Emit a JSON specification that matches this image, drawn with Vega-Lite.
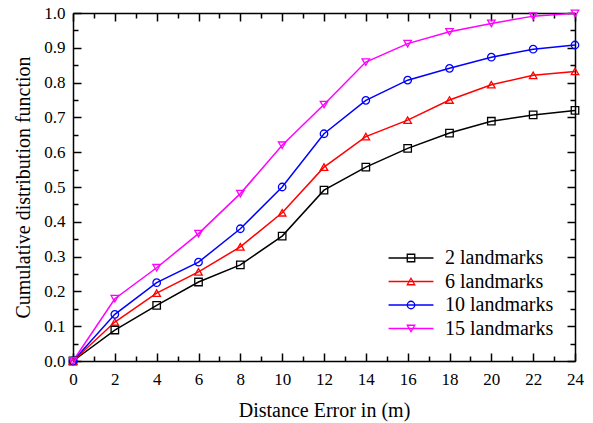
{
  "$schema": "https://vega.github.io/schema/vega-lite/v6.json",
  "autosize": {"type": "none"},
  "width": 502,
  "height": 348,
  "padding": {"left": 73, "top": 13, "right": 18, "bottom": 62},
  "background": "white",
  "config": {
    "font": "Liberation Serif",
    "view": {"stroke": null},
    "axis": {
      "zindex": 1,
      "tickColor": "black",
      "tickWidth": 1.5,
      "domainColor": "black",
      "domainWidth": 1.5,
      "grid": false,
      "labelFont": "Liberation Serif",
      "labelFontSize": 17,
      "labelColor": "black",
      "titleFont": "Liberation Serif",
      "titleFontSize": 20,
      "titleFontWeight": "normal",
      "titleColor": "black"
    }
  },
  "data": {
    "values": [
      {"series": "2 landmarks", "err": 0, "cdf": 0},
      {"series": "2 landmarks", "err": 2, "cdf": 0.089},
      {"series": "2 landmarks", "err": 4, "cdf": 0.160},
      {"series": "2 landmarks", "err": 6, "cdf": 0.227},
      {"series": "2 landmarks", "err": 8, "cdf": 0.276},
      {"series": "2 landmarks", "err": 10, "cdf": 0.359},
      {"series": "2 landmarks", "err": 12, "cdf": 0.491},
      {"series": "2 landmarks", "err": 14, "cdf": 0.557},
      {"series": "2 landmarks", "err": 16, "cdf": 0.611},
      {"series": "2 landmarks", "err": 18, "cdf": 0.655},
      {"series": "2 landmarks", "err": 20, "cdf": 0.689},
      {"series": "2 landmarks", "err": 22, "cdf": 0.707},
      {"series": "2 landmarks", "err": 24, "cdf": 0.720},
      {"series": "6 landmarks", "err": 0, "cdf": 0},
      {"series": "6 landmarks", "err": 2, "cdf": 0.112},
      {"series": "6 landmarks", "err": 4, "cdf": 0.195},
      {"series": "6 landmarks", "err": 6, "cdf": 0.256},
      {"series": "6 landmarks", "err": 8, "cdf": 0.328},
      {"series": "6 landmarks", "err": 10, "cdf": 0.426},
      {"series": "6 landmarks", "err": 12, "cdf": 0.557},
      {"series": "6 landmarks", "err": 14, "cdf": 0.645},
      {"series": "6 landmarks", "err": 16, "cdf": 0.692},
      {"series": "6 landmarks", "err": 18, "cdf": 0.750},
      {"series": "6 landmarks", "err": 20, "cdf": 0.794},
      {"series": "6 landmarks", "err": 22, "cdf": 0.821},
      {"series": "6 landmarks", "err": 24, "cdf": 0.832},
      {"series": "10 landmarks", "err": 0, "cdf": 0},
      {"series": "10 landmarks", "err": 2, "cdf": 0.134},
      {"series": "10 landmarks", "err": 4, "cdf": 0.225},
      {"series": "10 landmarks", "err": 6, "cdf": 0.284},
      {"series": "10 landmarks", "err": 8, "cdf": 0.380},
      {"series": "10 landmarks", "err": 10, "cdf": 0.500},
      {"series": "10 landmarks", "err": 12, "cdf": 0.653},
      {"series": "10 landmarks", "err": 14, "cdf": 0.749},
      {"series": "10 landmarks", "err": 16, "cdf": 0.807},
      {"series": "10 landmarks", "err": 18, "cdf": 0.841},
      {"series": "10 landmarks", "err": 20, "cdf": 0.873},
      {"series": "10 landmarks", "err": 22, "cdf": 0.896},
      {"series": "10 landmarks", "err": 24, "cdf": 0.908},
      {"series": "15 landmarks", "err": 0, "cdf": 0},
      {"series": "15 landmarks", "err": 2, "cdf": 0.179},
      {"series": "15 landmarks", "err": 4, "cdf": 0.268},
      {"series": "15 landmarks", "err": 6, "cdf": 0.366},
      {"series": "15 landmarks", "err": 8, "cdf": 0.481},
      {"series": "15 landmarks", "err": 10, "cdf": 0.620},
      {"series": "15 landmarks", "err": 12, "cdf": 0.737},
      {"series": "15 landmarks", "err": 14, "cdf": 0.859},
      {"series": "15 landmarks", "err": 16, "cdf": 0.912},
      {"series": "15 landmarks", "err": 18, "cdf": 0.946},
      {"series": "15 landmarks", "err": 20, "cdf": 0.970},
      {"series": "15 landmarks", "err": 22, "cdf": 0.991},
      {"series": "15 landmarks", "err": 24, "cdf": 0.999}
    ]
  },
  "layer": [
    {
      "mark": {"type": "line", "strokeWidth": 1.5},
      "encoding": {
        "x": {
          "field": "err", "type": "quantitative",
          "scale": {"domain": [0, 24], "nice": false},
          "axis": {
            "title": "Distance Error in (m)",
            "titlePadding": 13,
            "values": [0,2,4,6,8,10,12,14,16,18,20,22,24],
            "tickSize": -8,
            "labelPadding": 18,
            "labelFlush": false
          }
        },
        "y": {
          "field": "cdf", "type": "quantitative",
          "scale": {"domain": [0, 1], "nice": false},
          "axis": {
            "title": "Cumulative distribution function",
            "titlePadding": 10,
            "values": [0,0.1,0.2,0.3,0.4,0.5,0.6,0.7,0.8,0.9,1],
            "format": ".1f",
            "tickSize": -8,
            "labelPadding": 16,
            "labelFlush": false
          }
        },
        "color": {
          "field": "series", "type": "nominal",
          "scale": {
            "domain": ["2 landmarks", "6 landmarks", "10 landmarks", "15 landmarks"],
            "range": ["#000000", "#ff0000", "#0000ff", "#ff00ff"]
          },
          "legend": {
            "orient": "none",
            "legendX": 328,
            "legendY": 235,
            "title": null,
            "padding": 0,
            "symbolType": "M-6,0H6",
            "symbolSize": 56,
            "symbolStrokeWidth": 1.5,
            "labelFont": "Liberation Serif",
            "labelFontSize": 20,
            "labelColor": "black",
            "labelOffset": 24,
            "rowPadding": 3.5
          }
        }
      }
    },
    {
      "mark": {"type": "point", "filled": false, "size": 56, "strokeWidth": 1.3, "opacity": 1},
      "encoding": {
        "x": {"field": "err", "type": "quantitative", "axis": null},
        "y": {"field": "cdf", "type": "quantitative", "axis": null},
        "color": {
          "field": "series", "type": "nominal",
          "legend": {
            "orient": "none",
            "legendX": 328,
            "legendY": 235,
            "title": null,
            "padding": 0,
            "symbolSize": 56,
            "symbolStrokeWidth": 1.3,
            "labelExpr": "''",
            "labelFontSize": 20,
            "labelOffset": 24,
            "rowPadding": 3.5
          }
        },
        "shape": {
          "field": "series", "type": "nominal",
          "scale": {
            "domain": ["2 landmarks", "6 landmarks", "10 landmarks", "15 landmarks"],
            "range": ["square", "triangle-up", "circle", "triangle-down"]
          },
          "legend": {
            "orient": "none",
            "legendX": 328,
            "legendY": 235,
            "title": null,
            "padding": 0,
            "symbolSize": 56,
            "symbolStrokeWidth": 1.3,
            "labelExpr": "''",
            "labelFontSize": 20,
            "labelOffset": 24,
            "rowPadding": 3.5
          }
        }
      }
    },
    {
      "mark": {"type": "point", "opacity": 0},
      "encoding": {
        "x": {
          "field": "err", "type": "quantitative",
          "axis": {
            "orient": "bottom", "title": null, "labels": false, "domain": false,
            "values": [1,3,5,7,9,11,13,15,17,19,21,23],
            "tickSize": -5
          }
        },
        "y": {
          "field": "cdf", "type": "quantitative",
          "axis": {
            "orient": "left", "title": null, "labels": false, "domain": false,
            "values": [0.05,0.15,0.25,0.35,0.45,0.55,0.65,0.75,0.85,0.95],
            "tickSize": -5
          }
        }
      }
    },
    {
      "mark": {"type": "point", "opacity": 0},
      "encoding": {
        "x": {
          "field": "err", "type": "quantitative",
          "axis": {
            "orient": "top", "title": null, "labels": false,
            "values": [0,2,4,6,8,10,12,14,16,18,20,22,24],
            "tickSize": -8
          }
        },
        "y": {
          "field": "cdf", "type": "quantitative",
          "axis": {
            "orient": "right", "title": null, "labels": false,
            "values": [0,0.1,0.2,0.3,0.4,0.5,0.6,0.7,0.8,0.9,1],
            "tickSize": -8
          }
        }
      }
    },
    {
      "mark": {"type": "point", "opacity": 0},
      "encoding": {
        "x": {
          "field": "err", "type": "quantitative",
          "axis": {
            "orient": "top", "title": null, "labels": false, "domain": false,
            "values": [1,3,5,7,9,11,13,15,17,19,21,23],
            "tickSize": -5
          }
        },
        "y": {
          "field": "cdf", "type": "quantitative",
          "axis": {
            "orient": "right", "title": null, "labels": false, "domain": false,
            "values": [0.05,0.15,0.25,0.35,0.45,0.55,0.65,0.75,0.85,0.95],
            "tickSize": -5
          }
        }
      }
    }
  ],
  "resolve": {
    "axis": {"x": "independent", "y": "independent"},
    "legend": {"color": "independent", "shape": "independent"}
  }
}
